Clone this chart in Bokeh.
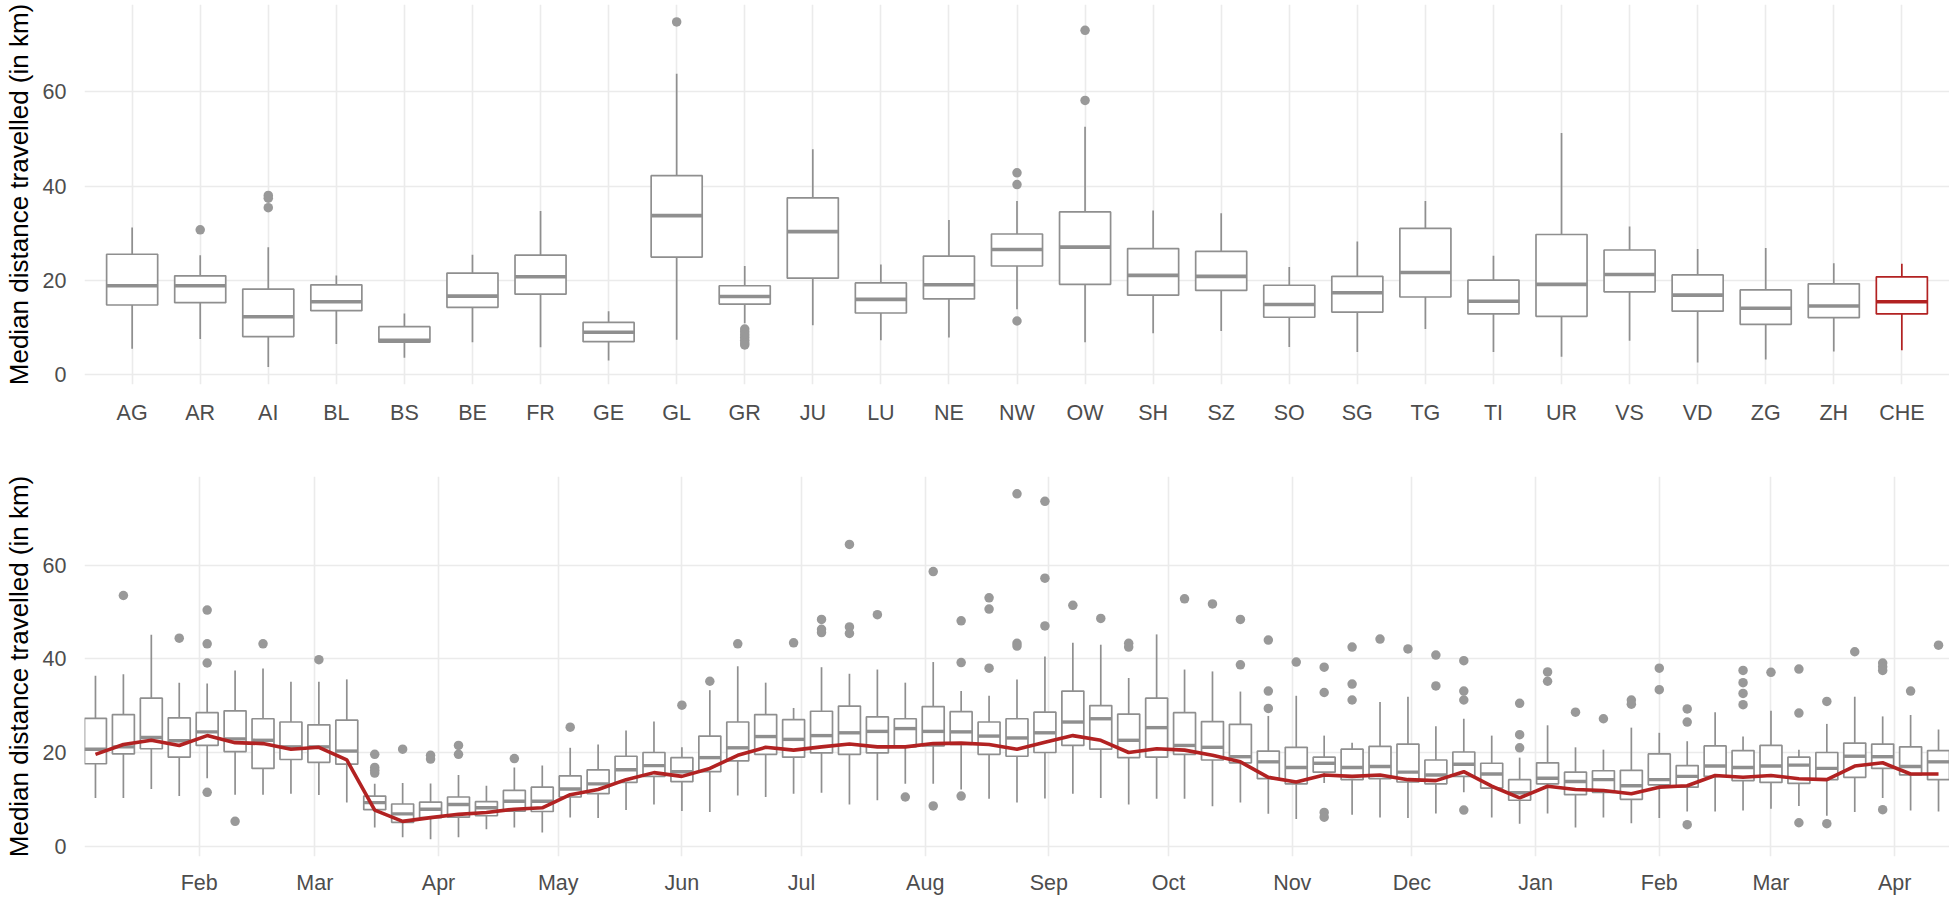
import pandas as pd
from bokeh.plotting import figure
from bokeh.layouts import column
from bokeh.models import FactorRange, Range1d, FixedTicker, DatetimeTickFormatter, ColumnDataSource
from bokeh.embed import file_html
from bokeh.resources import INLINE

# ---------------- top panel data: cantons ----------------
cantons = ["AG", "AR", "AI", "BL", "BS", "BE", "FR", "GE", "GL", "GR", "JU", "LU", "NE", "NW",
           "OW", "SH", "SZ", "SO", "SG", "TG", "TI", "UR", "VS", "VD", "ZG", "ZH", "CHE"]
c_lw = [5.4, 7.5, 1.5, 6.4, 3.5, 6.8, 5.7, 2.9, 7.3, 10.8, 10.4, 7.2, 7.8, 13.8,
        6.8, 8.7, 9.2, 5.8, 4.7, 9.6, 4.7, 3.7, 7.1, 2.5, 3.1, 4.8, 5.1]
c_q1 = [14.7, 15.2, 8.0, 13.5, 6.8, 14.2, 17.0, 6.9, 24.9, 14.9, 20.4, 13.0, 16.0, 23.0,
        19.1, 16.8, 17.8, 12.1, 13.2, 16.4, 12.8, 12.3, 17.5, 13.4, 10.6, 12.0, 12.8]
c_med = [18.8, 18.8, 12.2, 15.4, 7.2, 16.6, 20.7, 8.9, 33.7, 16.5, 30.3, 15.9, 19.0, 26.5,
         27.0, 21.0, 20.8, 14.8, 17.3, 21.6, 15.5, 19.1, 21.2, 16.8, 14.0, 14.5, 15.4]
c_q3 = [25.5, 20.9, 18.1, 19.0, 10.1, 21.5, 25.3, 11.0, 42.2, 18.8, 37.5, 19.4, 25.1, 29.8,
        34.5, 26.7, 26.1, 18.9, 20.8, 31.0, 20.0, 29.7, 26.4, 21.1, 17.9, 19.2, 20.7]
c_uw = [31.2, 25.3, 27.0, 21.0, 12.9, 25.4, 34.7, 13.4, 63.9, 23.0, 47.8, 23.3, 32.8, 36.8,
        52.6, 34.8, 34.2, 22.8, 28.2, 36.8, 25.2, 51.3, 31.4, 26.6, 26.8, 23.6, 23.5]
canton_outliers = {
    "AR": [30.7],
    "AI": [38.0, 37.4, 35.4],
    "GL": [74.9],
    "GR": [9.6, 9.0, 8.4, 7.8, 7.2, 6.6, 6.2],
    "NW": [42.8, 40.3, 11.3],
    "OW": [73.1, 58.2],
}

# ---------------- bottom panel data: weekly (weeks starting Monday 2020-01-06) ----------------
first_week = "2020-01-06"
w_lw = [10.3, 10.3, 12.2, 10.7, 14.5, 11.0, 11.0, 11.2, 10.9, 9.3,
        4.0, 1.9, 1.5, 1.9, 3.6, 4.0, 2.9, 6.1, 6.0, 7.7,
        8.9, 7.5, 7.3, 10.8, 10.5, 11.2, 11.4, 8.9, 9.8, 13.3,
        13.3, 12.1, 10.1, 9.3, 10.2, 11.2, 10.3, 8.9, 10.1, 10.1,
        8.5, 9.3, 6.9, 5.8, 13.5, 6.7, 6.1, 6.0, 7.0, 11.5,
        6.1, 4.8, 7.0, 4.0, 6.1, 4.9, 6.0, 7.4, 7.4, 7.6,
        8.0, 8.6, 6.5, 7.3, 10.3, 7.6, 7.4]
w_q1 = [17.6, 19.7, 20.8, 19.0, 21.5, 20.2, 16.6, 18.5, 17.9, 17.5,
        7.8, 5.1, 6.1, 6.2, 6.5, 7.5, 7.4, 10.5, 11.2, 13.6,
        14.9, 13.8, 15.9, 18.2, 19.6, 19.0, 19.9, 19.6, 19.9, 21.2,
        21.4, 21.7, 19.6, 19.2, 20.0, 21.5, 20.7, 18.9, 19.0, 19.6,
        18.4, 17.8, 14.4, 13.3, 15.8, 14.2, 14.4, 13.7, 13.3, 14.9,
        12.4, 9.8, 13.3, 11.0, 11.5, 10.0, 13.1, 12.6, 14.9, 14.0,
        13.6, 13.4, 14.2, 14.7, 16.6, 15.2, 14.2]
w_med = [20.7, 21.2, 23.2, 22.5, 24.4, 22.9, 22.6, 21.2, 21.2, 20.3,
         9.3, 6.9, 7.9, 8.9, 8.2, 9.6, 9.6, 12.2, 13.3, 16.3,
         17.2, 15.9, 18.9, 21.0, 23.4, 22.8, 23.6, 24.2, 24.5, 25.1,
         24.5, 24.4, 23.5, 23.1, 24.2, 26.5, 27.2, 22.6, 25.3, 21.5,
         21.1, 19.1, 18.0, 16.8, 17.7, 16.8, 17.0, 15.8, 15.2, 17.5,
         15.4, 11.4, 14.5, 13.8, 14.2, 12.9, 14.2, 14.9, 17.1, 16.8,
         17.1, 17.3, 16.6, 19.2, 19.1, 17.0, 18.0]
w_q3 = [27.3, 28.1, 31.6, 27.4, 28.5, 28.9, 27.2, 26.5, 25.9, 26.9,
        10.7, 9.0, 9.4, 10.5, 9.5, 11.9, 12.6, 15.0, 16.3, 19.2,
        20.0, 18.9, 23.5, 26.5, 28.1, 27.0, 28.8, 29.9, 27.6, 27.2,
        29.8, 28.7, 26.5, 27.2, 28.6, 33.1, 30.0, 28.2, 31.6, 28.5,
        26.6, 26.0, 20.3, 21.1, 19.0, 20.7, 21.3, 21.8, 18.4, 20.1,
        17.7, 14.2, 17.8, 15.8, 16.1, 16.2, 19.7, 17.2, 21.4, 20.4,
        21.5, 19.0, 20.0, 22.0, 21.8, 21.2, 20.4]
w_uw = [36.4, 36.7, 45.1, 34.9, 34.7, 37.5, 37.9, 35.1, 35.1, 35.6,
        13.3, 13.5, 13.4, 15.2, 12.9, 16.8, 17.2, 21.0, 21.7, 24.7,
        26.6, 21.1, 33.3, 38.4, 34.9, 29.5, 38.2, 36.8, 37.7, 34.9,
        39.3, 33.1, 32.1, 35.6, 40.5, 43.4, 43.0, 35.9, 45.2, 37.7,
        37.3, 33.0, 27.8, 32.1, 23.6, 22.1, 30.8, 31.9, 25.6, 27.2,
        23.6, 18.9, 25.8, 21.1, 20.6, 25.3, 24.2, 22.4, 28.6, 23.4,
        28.9, 20.6, 26.1, 31.9, 27.7, 28.0, 24.9]
che_median = [19.6, 21.7, 22.6, 21.5, 23.6, 22.1, 21.9, 20.7, 21.1, 18.4,
              7.7, 5.3, 6.1, 6.8, 7.2, 7.9, 8.2, 11.0, 12.1, 14.2,
              15.7, 14.9, 16.6, 19.4, 21.1, 20.5, 21.2, 21.8, 21.2, 21.2,
              21.9, 22.0, 21.7, 20.7, 22.2, 23.6, 22.6, 20.0, 20.8, 20.5,
              19.4, 18.0, 14.7, 13.7, 15.2, 14.9, 15.2, 14.2, 14.0, 15.9,
              12.8, 10.3, 12.8, 12.1, 11.9, 11.2, 12.6, 12.9, 15.1, 14.7,
              15.1, 14.4, 14.2, 17.1, 17.8, 15.4, 15.4]
week_outliers = {
    1: [53.5], 3: [44.4], 4: [50.4, 43.2, 39.1, 11.5], 5: [5.3], 6: [43.2], 8: [39.8],
    10: [19.6, 16.8, 16.2, 15.6], 11: [20.7], 12: [19.4, 18.6], 13: [21.5, 19.6], 15: [18.7],
    17: [25.4], 21: [30.1], 22: [35.2], 23: [43.2], 25: [43.4], 26: [48.4, 46.3, 45.6],
    27: [64.4, 46.8, 45.4], 28: [49.4], 29: [10.5], 30: [58.6, 8.6], 31: [48.1, 39.2, 10.7],
    32: [53.0, 50.6, 38.0], 33: [75.2, 43.3, 42.7], 34: [73.6, 57.2, 47.0], 35: [51.4],
    36: [48.6], 37: [43.3, 42.5], 39: [52.8], 40: [51.7], 41: [48.4, 38.7],
    42: [44.0, 33.1, 29.4], 43: [39.3], 44: [38.2, 32.8, 7.2, 6.2], 45: [42.5, 34.6, 31.2],
    46: [44.2], 47: [42.1], 48: [40.8, 34.2], 49: [39.6, 33.1, 31.2, 7.7],
    51: [30.5, 23.8, 21.0], 52: [37.2, 35.2], 53: [28.6], 54: [27.2], 55: [31.2, 30.3],
    56: [38.0, 33.4], 57: [29.3, 26.5, 4.6], 59: [37.5, 34.9, 32.6, 30.2], 60: [37.1],
    61: [37.8, 28.4, 5.0], 62: [30.9, 4.8], 63: [41.5], 64: [39.1, 38.3, 37.5, 7.8],
    65: [33.1], 66: [42.9],
}
month_ticks = pd.date_range("2020-02-01", "2021-04-01", freq="MS")

# ---------------- styling ----------------
GREY = "#8f8f8f"
PT = "#999999"
RED = "#B22222"
GRID = "#EBEBEB"
FONT = "Liberation Sans"
TICK_SIZE = "21.5px"
TITLE_SIZE = "26px"
YLABEL = "Median distance travelled (in km)"
DAY_MS = 86400000.0


def style(p):
    p.outline_line_color = None
    p.background_fill_color = "white"
    p.border_fill_color = "white"
    for g in (p.xgrid, p.ygrid):
        g.grid_line_color = GRID
        g.grid_line_width = 1.6
    for ax in (p.xaxis, p.yaxis):
        ax.axis_line_color = None
        ax.major_tick_line_color = None
        ax.minor_tick_line_color = None
        ax.major_label_text_font = FONT
        ax.major_label_text_font_size = TICK_SIZE
        ax.major_label_text_color = "#4D4D4D"
    p.yaxis.ticker = FixedTicker(ticks=[0, 20, 40, 60])
    p.yaxis.major_label_standoff = 12
    p.yaxis.axis_label = YLABEL
    p.yaxis.axis_label_text_font = FONT
    p.yaxis.axis_label_text_font_size = TITLE_SIZE
    p.yaxis.axis_label_text_font_style = "normal"
    p.yaxis.axis_label_text_color = "black"
    p.yaxis.axis_label_standoff = 6


# ---------------- top figure ----------------
p1 = figure(x_range=FactorRange(factors=cantons, range_padding=0.2, range_padding_units="absolute"),
            y_range=Range1d(-2.2, 78.6), frame_width=1865, frame_height=380,
            min_border_left=75, min_border_right=0, min_border_top=4, min_border_bottom=82,
            output_backend="svg", toolbar_location=None)
style(p1)
p1.xaxis.major_label_standoff = 10

colors = [RED if c == "CHE" else GREY for c in cantons]
src1 = ColumnDataSource(dict(cat=cantons, lw=c_lw, q1=c_q1, med=c_med, q3=c_q3, uw=c_uw, color=colors))
p1.segment(x0="cat", y0="q3", x1="cat", y1="uw", line_color="color", line_width=1.7, source=src1)
p1.segment(x0="cat", y0="q1", x1="cat", y1="lw", line_color="color", line_width=1.7, source=src1)
p1.vbar(x="cat", width=0.75, bottom="q1", top="q3", fill_color="white", line_color="color",
        line_width=1.7, source=src1)
p1.rect(x="cat", y="med", width=0.75, height=3.6, height_units="screen", fill_color="color",
        line_color=None, source=src1)
o_cat = [c for c, vals in canton_outliers.items() for _ in vals]
o_val = [v for vals in canton_outliers.values() for v in vals]
p1.scatter(x=o_cat, y=o_val, size=9.5, fill_color=PT, line_color=None)

# ---------------- bottom figure ----------------
weeks = pd.date_range(first_week, periods=len(w_med), freq="7D")
weeks_ms = [(t - pd.Timestamp("1970-01-01")).total_seconds() * 1000.0 for t in weeks]
box_w = 5.5 * DAY_MS

p2 = figure(x_axis_type="datetime",
            x_range=Range1d(weeks_ms[0] - box_w / 2, weeks_ms[-1] + box_w / 2),
            y_range=Range1d(-2.2, 78.9), frame_width=1865, frame_height=380,
            min_border_left=75, min_border_right=0, min_border_top=10, min_border_bottom=33,
            output_backend="svg", toolbar_location=None)
style(p2)
p2.xaxis.major_label_standoff = 8
tick_ms = [(t - pd.Timestamp("1970-01-01")).total_seconds() * 1000.0 for t in month_ticks]
p2.xaxis.ticker = FixedTicker(ticks=tick_ms)
p2.xaxis.formatter = DatetimeTickFormatter(days="%b", months="%b", years="%b")

src2 = ColumnDataSource(dict(x=weeks_ms, lw=w_lw, q1=w_q1, med=w_med, q3=w_q3, uw=w_uw))
p2.segment(x0="x", y0="q3", x1="x", y1="uw", line_color=GREY, line_width=1.7, source=src2)
p2.segment(x0="x", y0="q1", x1="x", y1="lw", line_color=GREY, line_width=1.7, source=src2)
p2.vbar(x="x", width=box_w, bottom="q1", top="q3", fill_color="white", line_color=GREY,
        line_width=1.7, source=src2)
p2.rect(x="x", y="med", width=box_w, height=3.4, height_units="screen", fill_color=GREY,
        line_color=None, source=src2)
ow_x = [weeks_ms[i] for i, vals in week_outliers.items() for _ in vals]
ow_y = [v for vals in week_outliers.values() for v in vals]
p2.scatter(x=ow_x, y=ow_y, size=9.5, fill_color=PT, line_color=None)
p2.line(x=weeks_ms, y=che_median, line_color=RED, line_width=3.6)

layout = column(p1, p2, spacing=0)
open("out.html", "w").write(file_html(layout, INLINE))
